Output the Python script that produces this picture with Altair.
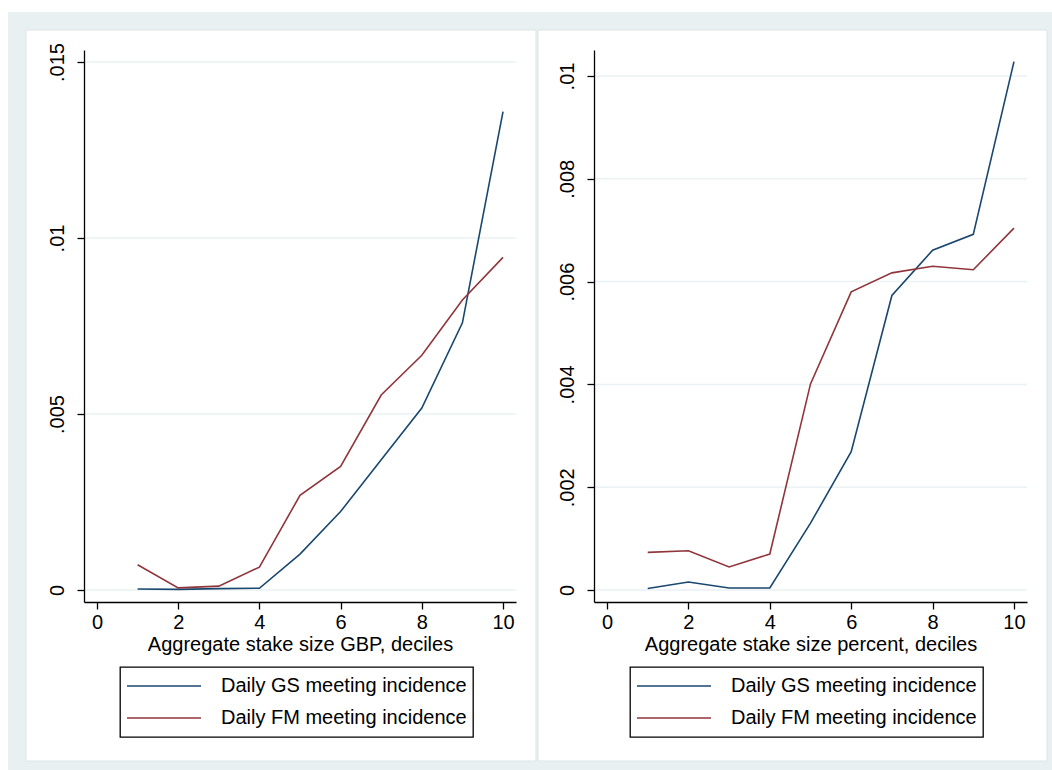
import altair as alt
import pandas as pd

# ---- data ----
deciles = [1, 2, 3, 4, 5, 6, 7, 8, 9, 10]
series_names = ["Daily GS meeting incidence", "Daily FM meeting incidence"]
series_colors = ["#1a476f", "#90353b"]

gbp_gs = [0.00003, 0.00002, 0.00004, 0.00005, 0.00102, 0.00223, 0.00370, 0.00517, 0.00759, 0.01359]
gbp_fm = [0.00072, 0.00006, 0.00011, 0.00065, 0.00269, 0.00351, 0.00554, 0.00667, 0.00824, 0.00945]
pct_gs = [0.00003, 0.000156, 0.00004, 0.00004, 0.00130, 0.00269, 0.00573, 0.00661, 0.00692, 0.01028]
pct_fm = [0.000733, 0.000765, 0.000448, 0.00070, 0.00401, 0.00580, 0.00617, 0.00630, 0.00623, 0.00704]

x_ticks = [0, 2, 4, 6, 8, 10]
gbp_yticks = [0, 0.005, 0.01, 0.015]
pct_yticks = [0, 0.002, 0.004, 0.006, 0.008, 0.01]

FONT = "Liberation Sans"
GRID = "#eaf2f3"
BAND = "#e8f0f2"
FS = 20
PLOT_H = 552


def panel(gs, fm, xtitle, ydomain, yticks, width, left_off, right_off, page=False):
    df = pd.DataFrame({
        "decile": deciles * 2,
        "value": gs + fm,
        "series": [series_names[0]] * len(deciles) + [series_names[1]] * len(deciles),
    })
    grid_df = pd.DataFrame({"value": yticks})
    one = pd.DataFrame({"a": [0]})
    x_scale = alt.Scale(domain=[-0.32, 10.32], nice=False, zero=False)
    y_scale = alt.Scale(domain=ydomain, nice=False, zero=False)
    y_axis = alt.Axis(values=yticks, title=None, grid=False, zindex=1,
                      labelAngle=270, labelPadding=10,
                      labelExpr="datum.value == 0 ? '0' : replace(format(datum.value, '~g'), '0.', '.')")

    layers = []
    if page:
        # white page margin and the light graph-region band behind both panels
        layers.append(alt.Chart(one).mark_rect(fill="white").encode(
            x=alt.value(-84), x2=alt.value(968), y=alt.value(-50), y2=alt.value(720)))
        layers.append(alt.Chart(one).mark_rect(fill=BAND).encode(
            x=alt.value(-76), x2=alt.value(968), y=alt.value(-38), y2=alt.value(720)))
    layers.append(alt.Chart(one).mark_rect(fill="white", stroke="#dbe5e8", strokeWidth=1).encode(
        x=alt.value(left_off), x2=alt.value(width + right_off),
        y=alt.value(-20), y2=alt.value(711),
    ))
    layers.append(alt.Chart(grid_df).mark_rule(color=GRID, strokeWidth=1.5).encode(
        y=alt.Y("value:Q", scale=y_scale, axis=y_axis)
    ))
    layers.append(alt.Chart(df).mark_line(strokeWidth=1.6).encode(
        x=alt.X("decile:Q", scale=x_scale,
                axis=alt.Axis(values=x_ticks, title=xtitle, grid=False, zindex=1,
                              labelPadding=3, titlePadding=2)),
        y=alt.Y("value:Q", scale=y_scale, axis=y_axis),
        color=alt.Color("series:N", sort=series_names,
                        scale=alt.Scale(domain=series_names, range=series_colors),
                        legend=alt.Legend(orient="none", legendX=36, legendY=617,
                                          direction="vertical", title=None,
                                          symbolType="stroke", symbolSize=5476,
                                          symbolStrokeWidth=1.6, clipHeight=26,
                                          rowPadding=6, padding=6, labelOffset=19,
                                          labelLimit=500,
                                          strokeColor="black", fillColor="white",
                                          labelFontSize=FS, labelFont=FONT,
                                          labelColor="black")),
    ))
    return alt.layer(*layers).properties(width=width, height=PLOT_H)


left = panel(gbp_gs, gbp_fm, "Aggregate stake size GBP, deciles",
             [-0.00034, 0.01534], gbp_yticks, 432, -58, 20, page=True)
right = panel(pct_gs, pct_fm, "Aggregate stake size percent, deciles",
              [-0.000233, 0.010506], pct_yticks, 433, -56, 20)

chart = alt.hconcat(left, right, spacing=78, bounds="flush").resolve_scale(
    color="independent"
).properties(
    padding={"left": 0, "top": 0, "right": 0, "bottom": 0},
    background="white",
).configure(font=FONT).configure_view(strokeWidth=0).configure_axis(
    domainColor="black", domainWidth=1.3, tickColor="black", tickWidth=1.3, tickSize=7,
    labelFontSize=FS, labelColor="black", labelFont=FONT,
    titleFontSize=FS, titleFontWeight="normal", titleColor="black", titleFont=FONT,
).configure_legend(strokeWidth=1.3)

chart.save("out.html", embed_options={"renderer": "svg", "actions": False})
